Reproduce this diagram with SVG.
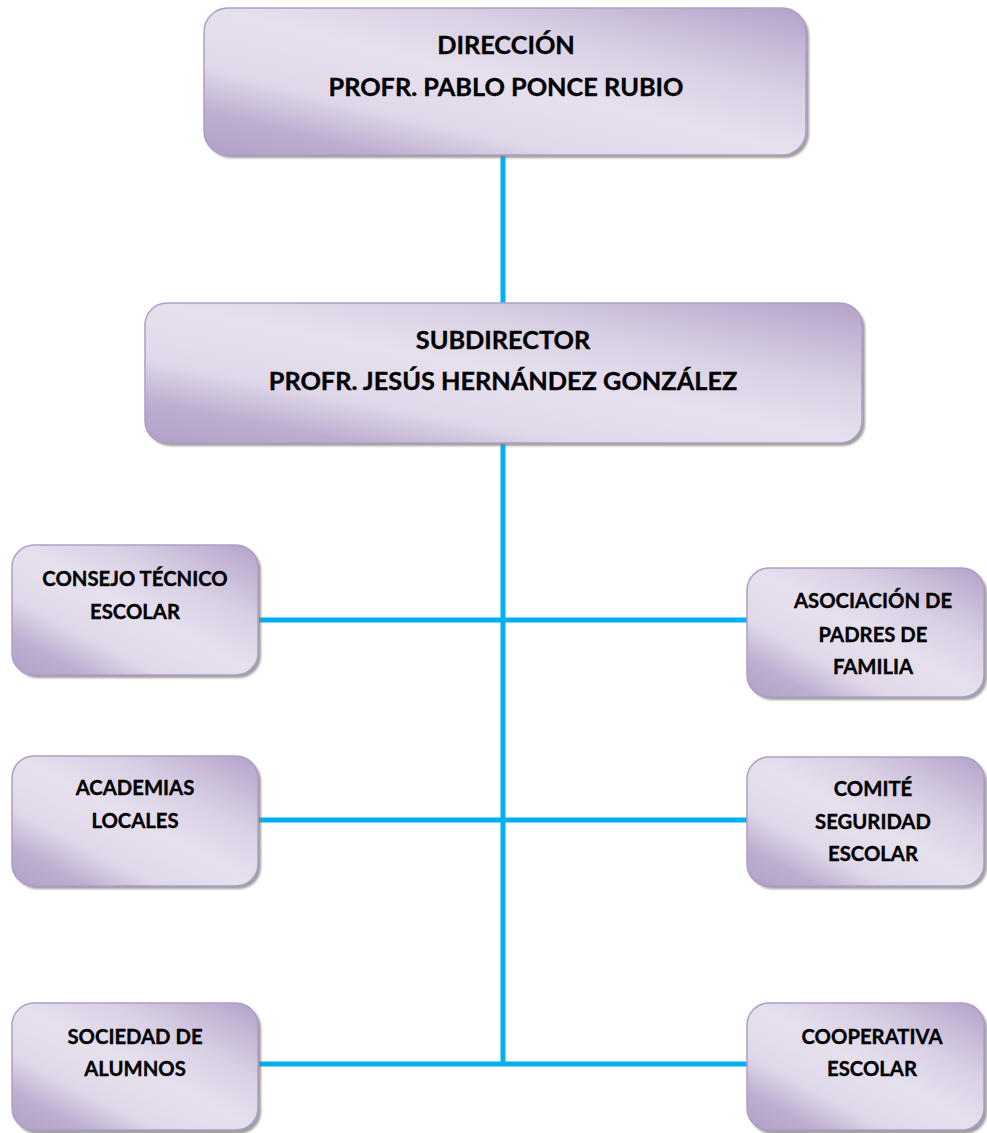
<svg xmlns="http://www.w3.org/2000/svg" width="987" height="1133" viewBox="0 0 987 1133">
<defs>
<linearGradient id="g" x1="1" y1="0" x2="0" y2="1">
<stop offset="0" stop-color="#B3A1C9"/>
<stop offset="0.3" stop-color="#D9D0E4"/>
<stop offset="0.5" stop-color="#E6E0EE"/>
<stop offset="0.7" stop-color="#E0D8E9"/>
<stop offset="0.85" stop-color="#BDAED0"/>
<stop offset="1" stop-color="#B1A0C6"/>
</linearGradient>
<filter id="sh" x="-5%" y="-5%" width="115%" height="115%">
<feGaussianBlur stdDeviation="1.2"/>
</filter>
<style>
.box{fill:url(#g);stroke:#AE9EC6;stroke-width:1.5}
.shadow{fill:#7f7f7f;opacity:0.75;filter:url(#sh)}
.t{font-family:Lato,"Liberation Sans",sans-serif;font-weight:bold;fill:#000;stroke:#000;stroke-width:0.35;text-anchor:middle}
.big{font-size:25.3px}
.sm{font-size:20.3px}
.conn{stroke:#00B0F0;stroke-width:5;fill:none}
</style>
</defs>
<g id="connectors">
<line class="conn" x1="503" y1="154" x2="503" y2="304"/>
<line class="conn" x1="503" y1="442" x2="503" y2="1064"/>
<line class="conn" x1="259" y1="620" x2="749" y2="620"/>
<line class="conn" x1="259" y1="820" x2="749" y2="820"/>
<line class="conn" x1="259" y1="1064" x2="749" y2="1064"/>
</g>
<g id="direccion">
<rect class="shadow" x="207" y="11" width="602" height="147" rx="24"/>
<rect class="box" x="204" y="8" width="602" height="147" rx="24"/>
<text class="t big" x="506" y="54">DIRECCIÓN</text>
<text class="t big" x="506" y="96">PROFR. PABLO PONCE RUBIO</text>
</g>
<g id="subdirector">
<rect class="shadow" x="148" y="306" width="717" height="140" rx="22"/>
<rect class="box" x="145" y="303" width="717" height="140" rx="22"/>
<text class="t big" x="503" y="349">SUBDIRECTOR</text>
<text class="t big" x="503" y="390">PROFR. JESÚS HERNÁNDEZ GONZÁLEZ</text>
</g>
<g id="consejo">
<rect class="shadow" x="15" y="548" width="246" height="130" rx="22"/>
<rect class="box" x="12" y="545" width="246" height="130" rx="22"/>
<text class="t sm" x="135" y="586">CONSEJO TÉCNICO</text>
<text class="t sm" x="135" y="619">ESCOLAR</text>
</g>
<g id="asociacion">
<rect class="shadow" x="750" y="571" width="237" height="129" rx="22"/>
<rect class="box" x="747" y="568" width="237" height="129" rx="22"/>
<text class="t sm" x="873" y="608">ASOCIACIÓN DE</text>
<text class="t sm" x="873" y="642">PADRES DE</text>
<text class="t sm" x="873" y="674">FAMILIA</text>
</g>
<g id="academias">
<rect class="shadow" x="15" y="759" width="246" height="130" rx="22"/>
<rect class="box" x="12" y="756" width="246" height="130" rx="22"/>
<text class="t sm" x="135" y="795">ACADEMIAS</text>
<text class="t sm" x="135" y="828">LOCALES</text>
</g>
<g id="comite">
<rect class="shadow" x="750" y="760" width="237" height="129" rx="22"/>
<rect class="box" x="747" y="757" width="237" height="129" rx="22"/>
<text class="t sm" x="873" y="796">COMITÉ</text>
<text class="t sm" x="873" y="829">SEGURIDAD</text>
<text class="t sm" x="873" y="861">ESCOLAR</text>
</g>
<g id="sociedad">
<rect class="shadow" x="15" y="1006" width="246" height="128" rx="22"/>
<rect class="box" x="12" y="1003" width="246" height="127" rx="22"/>
<text class="t sm" x="135" y="1044">SOCIEDAD DE</text>
<text class="t sm" x="135" y="1076">ALUMNOS</text>
</g>
<g id="cooperativa">
<rect class="shadow" x="750" y="1006" width="237" height="128" rx="22"/>
<rect class="box" x="747" y="1003" width="237" height="127" rx="22"/>
<text class="t sm" x="872" y="1044">COOPERATIVA</text>
<text class="t sm" x="872" y="1076">ESCOLAR</text>
</g>
</svg>
